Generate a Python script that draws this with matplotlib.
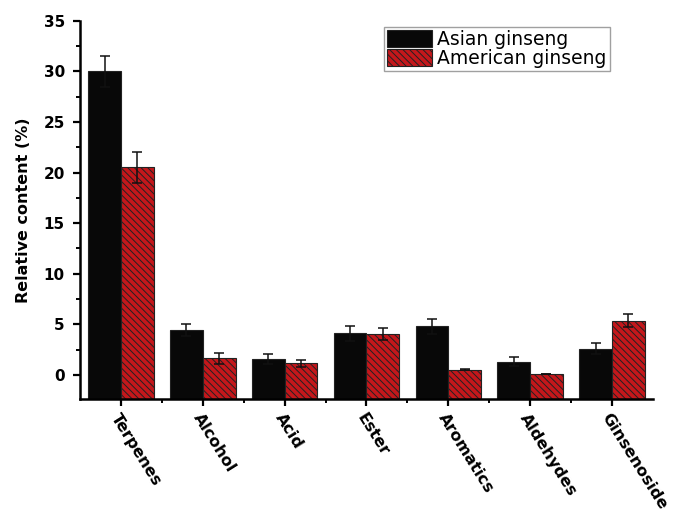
import numpy as np
import matplotlib
matplotlib.use("Agg")
import matplotlib.pyplot as plt

plt.rcParams['font.family'] = ['DejaVu Sans']
plt.rcParams['hatch.linewidth'] = 0.7
plt.rcParams['hatch.color'] = 'black'

categories = ["Terpenes", "Alcohol", "Acid", "Ester", "Aromatics", "Aldehydes", "Ginsenoside"]
asian = [30.0, 4.4, 1.6, 4.1, 4.8, 1.3, 2.6]
asian_err = [1.5, 0.6, 0.5, 0.75, 0.75, 0.43, 0.55]
american = [20.5, 1.65, 1.15, 4.0, 0.5, 0.07, 5.35]
american_err = [1.5, 0.55, 0.35, 0.6, 0.05, 0.02, 0.65]
series_labels = ["Asian ginseng", "American ginseng"]

y_min, y_max = -2.4, 35

fig = plt.figure(figsize=(6.73, 5.21), dpi=100)
ax = fig.add_axes([0.119, 0.234, 0.851, 0.726])

x = np.arange(1, len(categories) + 1)
w = 0.4
a = np.array(asian)
m = np.array(american)

ax.bar(x - w / 2, a - y_min, w, bottom=y_min, color='#080808', edgecolor='#222222',
       linewidth=0.8, label=series_labels[0])
ax.bar(x + w / 2, m - y_min, w, bottom=y_min, color='#c4171b', edgecolor='#222222',
       linewidth=0.8, hatch='\\\\\\\\\\', label=series_labels[1])

ax.errorbar(x - w / 2, a, yerr=asian_err, fmt='none', ecolor='#111111',
            elinewidth=1.1, capsize=3.5, capthick=1.1)
ax.errorbar(x + w / 2, m, yerr=american_err, fmt='none', ecolor='#111111',
            elinewidth=1.1, capsize=3.5, capthick=1.1)

ax.set_xlim(0.5, 7.5)
ax.set_ylim(y_min, y_max)

for side in ('top', 'right'):
    ax.spines[side].set_visible(False)
for side in ('left', 'bottom'):
    ax.spines[side].set_linewidth(1.8)

ax.set_yticks(np.arange(0, 36, 5))
ax.set_yticks(np.arange(2.5, 35, 5), minor=True)
ax.set_xticks(x)
ax.set_xticks(x[:-1] + 0.5, minor=True)
ax.tick_params(axis='both', which='major', direction='out', length=5, width=1.6)
ax.tick_params(axis='both', which='minor', direction='out', length=3, width=1.4)
ax.tick_params(axis='y', labelsize=11, pad=6)

for lbl in ax.get_yticklabels():
    lbl.set_fontweight('bold')

ax.set_xticklabels(categories, rotation=-58, ha='left', va='top',
                   rotation_mode='anchor', fontsize=11.5, fontweight='bold')

ax.set_ylabel("Relative content (%)", fontsize=11.5, fontweight='bold', labelpad=9)

leg = fig.legend(loc='upper left', bbox_to_anchor=(384 / 673, 1 - 27 / 521),
                 fontsize=13.5, frameon=True, fancybox=False, edgecolor='#888888',
                 handlelength=2.4, handleheight=1.0, labelspacing=0.0,
                 borderpad=0.15, handletextpad=0.3, borderaxespad=0)
leg.get_frame().set_linewidth(1.0)

fig.savefig("out.png", dpi=100)
